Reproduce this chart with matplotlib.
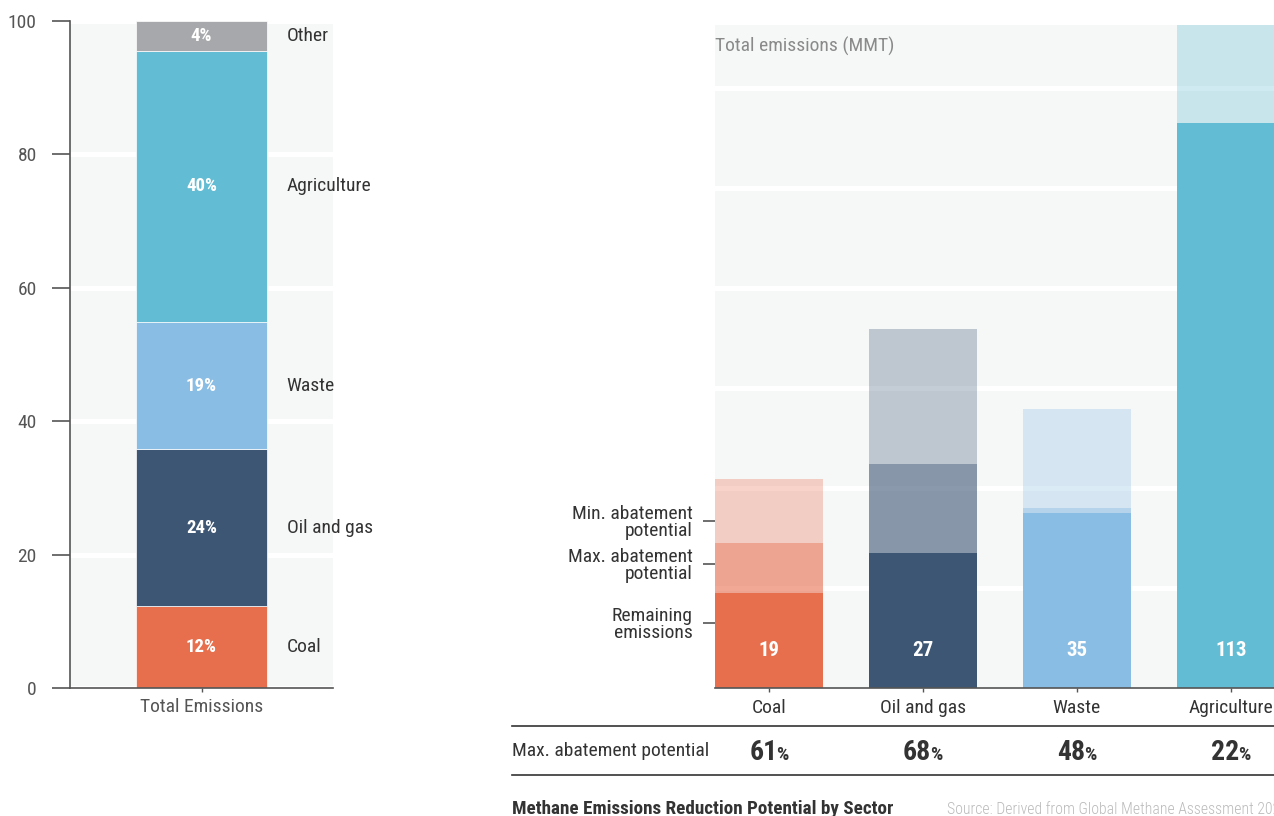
import matplotlib
matplotlib.use('Agg')
import matplotlib.pyplot as plt
from matplotlib import font_manager
from matplotlib.lines import Line2D
import matplotlib.transforms as mtransforms

available = {f.name for f in font_manager.fontManager.ttflist}
FONT = 'DejaVu Sans'
for cand in ['Roboto Condensed', 'Liberation Sans Narrow', 'Roboto']:
    if cand in available:
        FONT = cand
        break
plt.rcParams['font.family'] = [FONT, 'DejaVu Sans']

# ---------------- data ----------------
share_sectors = ['Coal', 'Oil and gas', 'Waste', 'Agriculture', 'Other']
share_values = [12.3, 23.5, 19.1, 40.6, 4.5]
share_labels = ['12%', '24%', '19%', '40%', '4%']
share_colors = ['#e86f4d', '#3d5674', '#8abde4', '#62bcd3', '#a7a8ab']

sectors = ['Coal', 'Oil and gas', 'Waste', 'Agriculture']
remaining = [19, 27, 35, 113]
max_abatement_top = [29, 44.8, 36, 113]
total_emissions = [41.8, 71.8, 55.8, 133]
max_abatement_pct = [61, 68, 48, 22]
sector_colors = ['#e86f4d', '#3d5674', '#8abde4', '#62bcd3']
legend_labels = ['Remaining\nemissions', 'Max. abatement\npotential', 'Min. abatement\npotential']
legend_values = [13, 24.8, 33.4]

# ---------------- figure ----------------
W, H = 1274, 816
fig = plt.figure(figsize=(W / 100, H / 100), dpi=100)


def rect(l, t, r, b):
    return [l / W, 1 - b / H, (r - l) / W, (b - t) / H]


BG = '#f6f7f7'
TXT = '#333333'
AX = '#555555'
FS = 14

# ---- left: share of total emissions ----
ax1 = fig.add_axes(rect(70, 21, 333, 688))
ax1.set_facecolor(BG)
ax1.set_xlim(-1, 1)
ax1.set_ylim(0, 100)
ax1.set_axisbelow(True)
ax1.yaxis.grid(True, color='white', linewidth=3.6)
bottom = 0
for name, val, lab, col in zip(share_sectors, share_values, share_labels, share_colors):
    ax1.bar(0, val, bottom=bottom, width=1.0, color=col, edgecolor='white', linewidth=0.5)
    mid = bottom + val / 2
    ax1.text(0, mid, lab, ha='center', va='center', color='white', fontsize=13.5, fontweight='bold')
    ax1.annotate(name, xy=(0.5, mid), xytext=(14, 0), textcoords='offset points',
                 ha='left', va='center', color=TXT, fontsize=FS)
    bottom += val
ax1.set_yticks(range(0, 101, 20))
ax1.set_xticks([0])
ax1.set_xticklabels(['Total Emissions'])
for s in ['top', 'right']:
    ax1.spines[s].set_visible(False)
for s in ['left', 'bottom']:
    ax1.spines[s].set_color(AX)
    ax1.spines[s].set_linewidth(1.2)
ax1.tick_params(axis='y', length=13, width=1.2, color=AX, pad=11, labelsize=FS, labelcolor=AX)
ax1.tick_params(axis='x', length=3, width=1, color=AX, pad=4.5, labelsize=FS, labelcolor=AX)

# ---- right: abatement potential per sector ----
ax2 = fig.add_axes(rect(715, 25, 1274, 688))
ax2.set_facecolor(BG)
ax2.set_xlim(-0.35, 3.28)
ax2.set_ylim(0, 132.6)
ax2.set_axisbelow(True)
xs = list(range(len(sectors)))
w = 0.70
for i in xs:
    col = sector_colors[i]
    ax2.bar(i, remaining[i], width=w, color=col, linewidth=0)
    ax2.bar(i, max_abatement_top[i] - remaining[i], bottom=remaining[i], width=w,
            color=col, alpha=0.6, linewidth=0)
    ax2.bar(i, total_emissions[i] - max_abatement_top[i], bottom=max_abatement_top[i], width=w,
            color=col, alpha=0.3, linewidth=0)
    ax2.text(i, 7.6, str(remaining[i]), ha='center', va='center', color='white',
             fontsize=15, fontweight='bold')
ax2.set_yticks(range(20, 121, 20))
ax2.yaxis.grid(True, which='major', color='white', linewidth=3.6)
ax2.set_yticks(legend_values, minor=True)
ax2.set_yticklabels(legend_labels, minor=True)
ax2.tick_params(axis='y', which='major', length=0, labelleft=False)
ax2.tick_params(axis='y', which='minor', length=9, width=1.2, color=AX, pad=7,
                labelsize=FS, labelcolor=TXT)
for lbl in ax2.get_yticklabels(minor=True):
    lbl.set_linespacing(0.95)
ax2.set_xticks(xs)
ax2.set_xticklabels(sectors)
ax2.tick_params(axis='x', length=3, width=1, color=AX, pad=5, labelsize=FS, labelcolor=TXT)
for s in ['top', 'right', 'left']:
    ax2.spines[s].set_visible(False)
ax2.spines['bottom'].set_color(AX)
ax2.spines['bottom'].set_linewidth(1.2)
ax2.text(0, 0.967, 'Total emissions (MMT)', transform=ax2.transAxes, ha='left', va='center',
         color='#8a8a8a', fontsize=FS)

# ---- bottom table ----
for yy in (726, 775):
    fig.add_artist(Line2D([512 / W, 1.0], [1 - yy / H, 1 - yy / H], color=TXT, linewidth=1.2))
fig.text(512 / W, 1 - 751 / H, 'Max. abatement potential', ha='left', va='center',
         color=TXT, fontsize=FS)
trans = mtransforms.blended_transform_factory(ax2.transData, fig.transFigure)
pairs = []
for i, v in zip(xs, max_abatement_pct):
    t1 = ax2.annotate(str(v), xy=(i, 1 - 760 / H), xycoords=trans, xytext=(0, 0),
                      textcoords='offset pixels', ha='left', va='baseline',
                      fontsize=20, fontweight='bold', color=TXT, annotation_clip=False)
    t2 = ax2.annotate('%', xy=(i, 1 - 760 / H), xycoords=trans, xytext=(0, 0),
                      textcoords='offset pixels', ha='left', va='baseline',
                      fontsize=14, fontweight='bold', color=TXT, annotation_clip=False)
    pairs.append((t1, t2))
fig.canvas.draw()
r = fig.canvas.get_renderer()
gap = -1
for t1, t2 in pairs:
    w1 = t1.get_window_extent(r).width
    w2 = t2.get_window_extent(r).width
    tot = w1 + w2 + gap
    t1.xyann = (-tot / 2, 0)
    t2.xyann = (-tot / 2 + w1 + gap, 0)

fig.text(512 / W, 1 - 809 / H, 'Methane Emissions Reduction Potential by Sector', ha='left',
         va='center', color=TXT, fontsize=13.8, fontweight='bold')
fig.text(947 / W, 1 - 810 / H, 'Source: Derived from Global Methane Assessment 2021', ha='left',
         va='center', color='#bbbbbb', fontsize=11.3, fontweight='light')

fig.savefig('out.png', dpi=100)
